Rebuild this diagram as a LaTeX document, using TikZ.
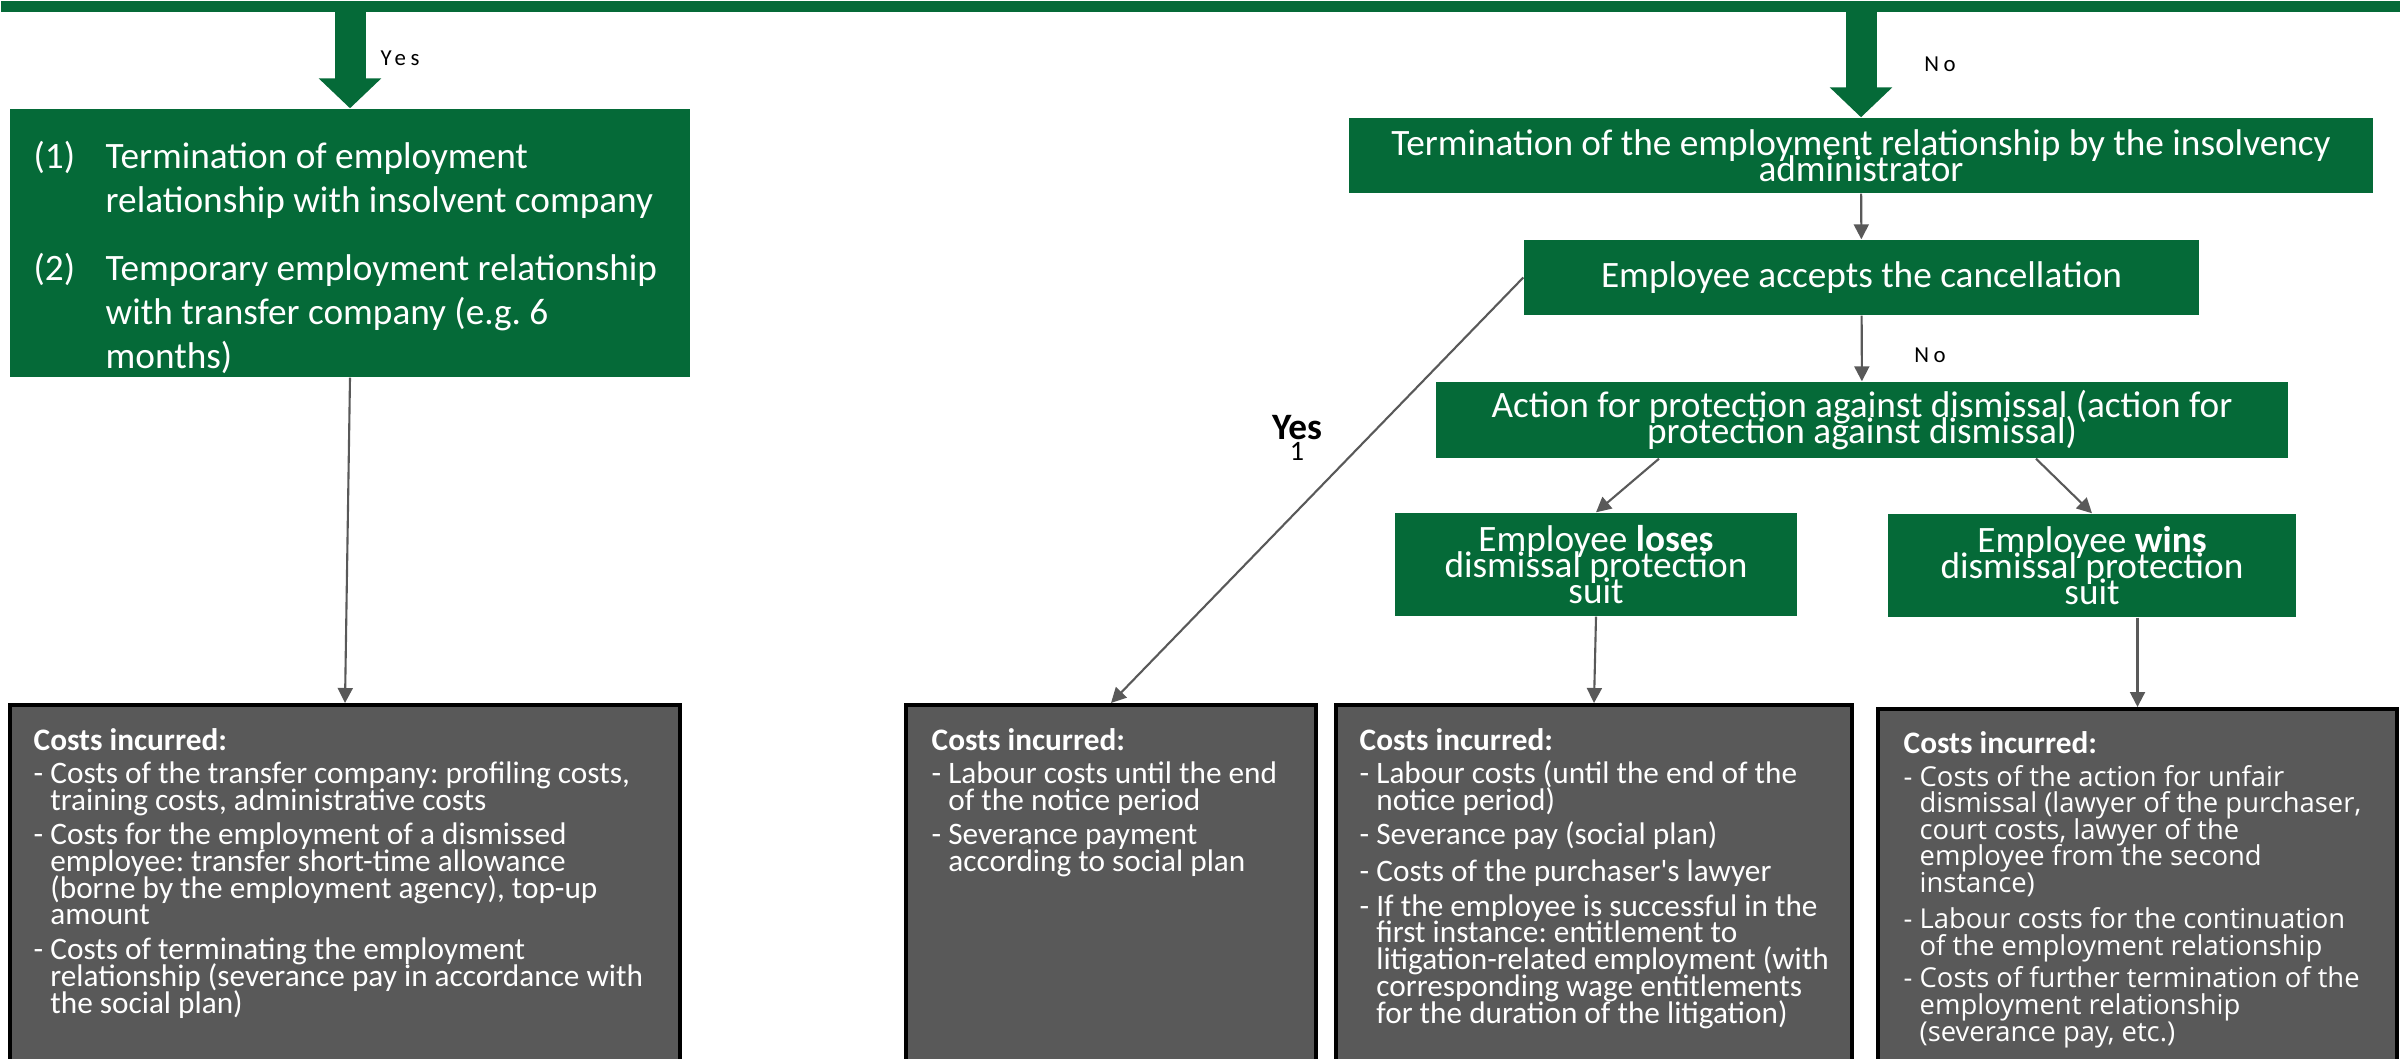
\documentclass[tikz,border=0pt]{standalone}
\usepackage{fontspec}
\setmainfont{Carlito}
\newfontfamily\widefont{Open Sans}
\newfontfamily\tagfont{Carlito}[LetterSpace=20]
\usetikzlibrary{arrows.meta}
\frenchspacing
\begin{document}
\begin{tikzpicture}[x=0.1mm,y=-0.1mm,
	greenbox/.style={fill=kgreen,text=white,inner sep=0pt,align=center,font={\fontsize{10.6}{7.5}\selectfont\lineskiplimit=-\maxdimen}},
	costbox/.style={fill=boxgray,draw=black,line width=1pt,anchor=north,minimum height=40mm},
	costtext/.style={text=white,anchor=north west,inner sep=0pt,align=left,font={\fontsize{8.9}{7.6}\selectfont\lineskiplimit=-\maxdimen}},
	link/.style={draw=linegray,line width=0.6pt,-{Triangle[width=1.5mm,length=1.5mm]}},
	bigarrow/.style={draw=kgreen,line width=3.1mm,-{Triangle[width=6.1mm,length=3mm]}},
	tag/.style={inner sep=0pt,font={\tagfont\fontsize{6.5}{7}\selectfont}}]

\definecolor{kgreen}{RGB}{5,106,56}
\definecolor{boxgray}{RGB}{89,89,89}
\definecolor{linegray}{RGB}{89,89,89}
	\useasboundingbox (0,0) rectangle (2400,1059);
	\clip (0,0) rectangle (2400,1059);

	\node[fill=kgreen,inner sep=0pt,minimum width=240mm,minimum height=1.1mm,anchor=north west] (banner) at (0,0) {};

	\node[greenbox,minimum width=68mm,minimum height=26.8mm] (transfer) at (350,243) {};
	\node[text=white,anchor=north west,inner sep=0pt,align=left,font={\fontsize{10.6}{12.5}\selectfont}] (transfertxt) at (33,141)
		{\makebox[7.2mm][l]{(1)}Termination of employment\\
		\hspace*{7.2mm}relationship with insolvent company\\[2.4mm]
		\makebox[7.2mm][l]{(2)}Temporary employment relationship\\
		\hspace*{7.2mm}with transfer company (e.g. 6\\
		\hspace*{7.2mm}months)};

	\node[greenbox,minimum width=102.4mm,minimum height=7.5mm] (admin) at (1861,155.5)
		{Termination of the employment relationship by the insolvency\\administrator};
	\node[greenbox,minimum width=67.5mm,minimum height=7.5mm] (accepts) at (1861.5,277.5)
		{Employee accepts the cancellation};
	\node[greenbox,minimum width=85.2mm,minimum height=7.6mm] (action) at (1862,420)
		{Action for protection against dismissal (action for\\protection against dismissal)};
	\node[greenbox,minimum width=40.2mm,minimum height=10.3mm] (loses) at (1596,564.5)
		{Employee \textbf{loses}\\dismissal protection\\suit};
	\node[greenbox,minimum width=40.8mm,minimum height=10.3mm] (wins) at (2092,565.5)
		{Employee \textbf{wins}\\dismissal protection\\suit};

	\node[costbox,minimum width=67mm] (cost1) at (345,703) {};
	\node[costbox,minimum width=41mm] (cost2) at (1111,703) {};
	\node[costbox,minimum width=51.6mm] (cost3) at (1594,703) {};
	\node[costbox,minimum width=51.9mm] (cost4) at (2137.5,707) {};

	\node[costtext] (cost1txt) at (33,728)
		{\textbf{Costs incurred:}\\[0.6mm]
		- Costs of the transfer company: profiling costs,\\
		\hphantom{- }training costs, administrative costs\\[0.8mm]
		- Costs for the employment of a dismissed\\
		\hphantom{- }employee: transfer short-time allowance\\
		\hphantom{- }(borne by the employment agency), top-up\\
		\hphantom{- }amount\\[0.8mm]
		- Costs of terminating the employment\\
		\hphantom{- }relationship (severance pay in accordance with\\
		\hphantom{- }the social plan)};
	\node[costtext] (cost2txt) at (931,728)
		{\textbf{Costs incurred:}\\[0.6mm]
		- Labour costs until the end\\
		\hphantom{- }of the notice period\\[0.8mm]
		- Severance payment\\
		\hphantom{- }according to social plan};
	\node[costtext] (cost3txt) at (1359,728)
		{\textbf{Costs incurred:}\\[0.6mm]
		- Labour costs (until the end of the\\
		\hphantom{- }notice period)\\[0.8mm]
		- Severance pay (social plan)\\[1mm]
		- Costs of the purchaser\textquotesingle s lawyer\\[0.8mm]
		- If the employee is successful in the\\
		\hphantom{- }first instance: entitlement to\\
		\hphantom{- }litigation-related employment (with\\
		\hphantom{- }corresponding wage entitlements\\
		\hphantom{- }for the duration of the litigation)};
	\node[costtext,font={\widefont\fontsize{7.8}{7.55}\selectfont\lineskiplimit=-\maxdimen}] (cost4txt) at (1903,731)
		{{\rmfamily\bfseries\fontsize{8.9}{7.6}\selectfont Costs incurred:}\\[0.6mm]
		- Costs of the action for unfair\\
		\hphantom{- }dismissal (lawyer of the purchaser,\\
		\hphantom{- }court costs, lawyer of the\\
		\hphantom{- }employee from the second\\
		\hphantom{- }instance)\\[1mm]
		- Labour costs for the continuation\\
		\hphantom{- }of the employment relationship\\[0.6mm]
		- Costs of further termination of the\\
		\hphantom{- }employment relationship\\
		\hphantom{- }(severance pay, etc.)};

	\draw[bigarrow] (transfer.north |- banner.south) -- (transfer.north);
	\draw[bigarrow] (admin.north |- banner.south) -- (admin.north);

	\draw[link] (admin) -- (accepts);
	\draw[link] (accepts) -- (action);
	\draw[link] ([xshift=-20.3mm]action.south) -- (loses.north);
	\draw[link] ([xshift=17.4mm]action.south) -- (wins.north);
	\draw[link] (loses.south) -- (cost3.north);
	\draw[link] (cost4.north |- wins.south) -- (cost4.north);
	\draw[link] (accepts.west) -- (cost2.north);
	\draw[link] (transfer.south) -- (cost1.north);

	\node[tag] (yesA) at (400,58) {Yes};
	\node[tag] (noA) at (1940,64) {No};
	\node[tag] (noB) at (1930,355) {No};
	\node[inner sep=0pt,font={\bfseries\fontsize{10.6}{12}\selectfont}] (yesB) at (1297,428) {Yes};
	\node[inner sep=0pt,font={\fontsize{8}{9}\selectfont}] (yesnum) at (1297,451) {1};

\end{tikzpicture}
\end{document}
